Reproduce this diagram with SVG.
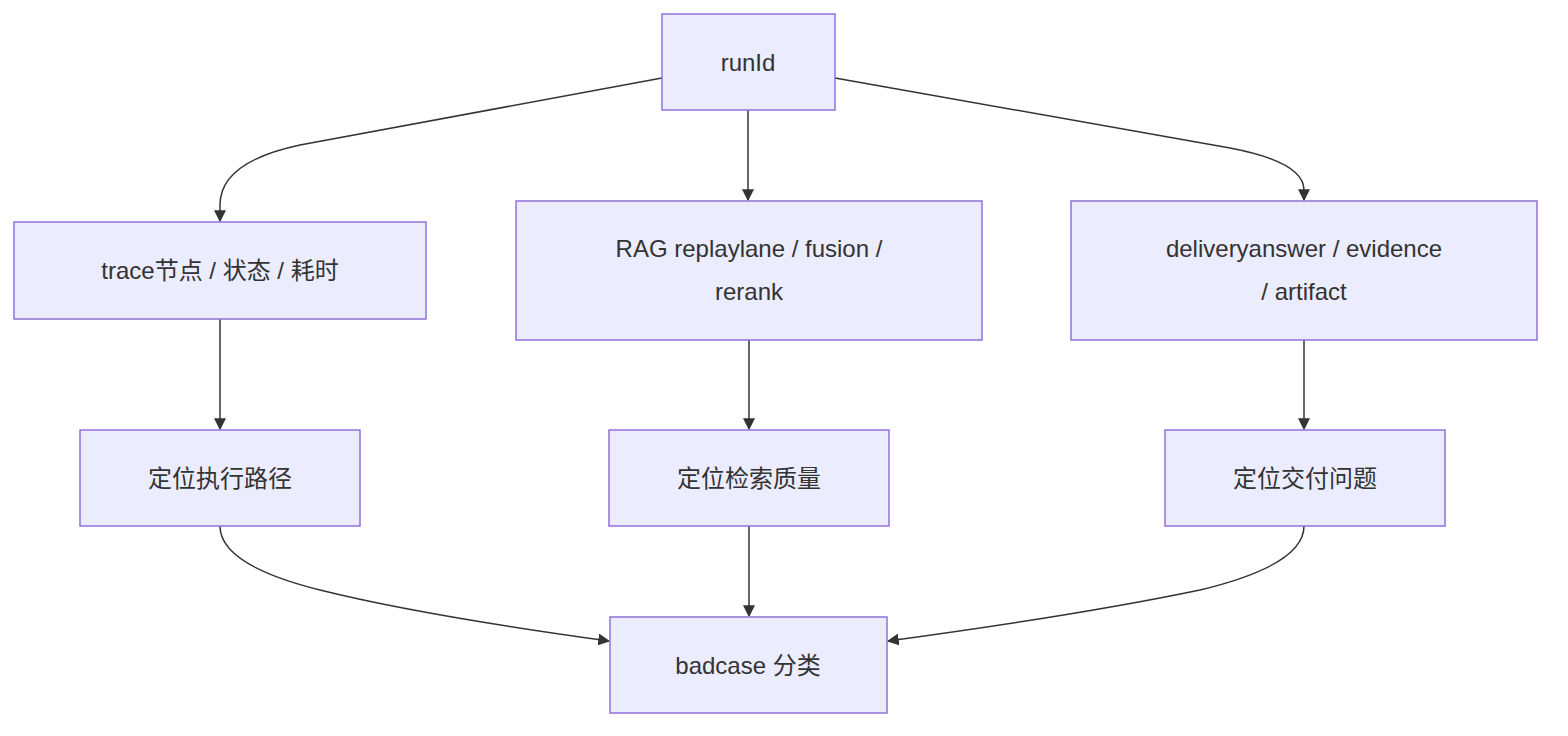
<svg xmlns="http://www.w3.org/2000/svg" width="1568" height="736" viewBox="0 0 1568 736">
<style>
.n rect{fill:#ECECFF;stroke:#9370DB;stroke-width:1.5}
.n text{font-family:"Liberation Sans","Noto Sans CJK SC",sans-serif;font-size:24px;fill:#333;text-anchor:middle;dominant-baseline:central}
.e path{fill:none;stroke:#333;stroke-width:1.5;marker-end:url(#a)}
</style>
<defs><marker id="a" viewBox="0 0 10 10" refX="9" refY="5" markerWidth="8" markerHeight="8" orient="auto"><path d="M0,0L10,5L0,10z" fill="#333"/></marker></defs>
<rect width="1568" height="736" fill="#fff"/>
<g class="e">
<path d="M662,78 L300,145 Q220,162 220,205 L220,221"/>
<path d="M748,110 L748,200"/>
<path d="M835,78 L1230,148 Q1304,162 1304,190 L1304,200"/>
<path d="M220,319 L220,429"/>
<path d="M749,340 L749,429"/>
<path d="M1304,340 L1304,429"/>
<path d="M220,526 Q220,565 320,590 Q420,615 609,641"/>
<path d="M749,526 L749,616"/>
<path d="M1304,526 Q1304,565 1200,590 Q1080,615 888,641"/>
</g>
<g id="runId" class="n"><rect x="662" y="14" width="173" height="96"/><text x="748" y="62">runId</text></g>
<g id="trace" class="n"><rect x="14" y="222" width="412" height="97"/><text x="220" y="270">trace节点 / 状态 / 耗时</text></g>
<g id="rag" class="n"><rect x="516" y="201" width="466" height="139"/><text x="749" y="248">RAG replaylane / fusion /</text><text x="749" y="291">rerank</text></g>
<g id="delivery" class="n"><rect x="1071" y="201" width="466" height="139"/><text x="1304" y="248">deliveryanswer / evidence</text><text x="1304" y="291">/ artifact</text></g>
<g id="p1" class="n"><rect x="80" y="430" width="280" height="96"/><text x="220" y="478">定位执行路径</text></g>
<g id="p2" class="n"><rect x="609" y="430" width="280" height="96"/><text x="749" y="478">定位检索质量</text></g>
<g id="p3" class="n"><rect x="1165" y="430" width="280" height="96"/><text x="1305" y="478">定位交付问题</text></g>
<g id="badcase" class="n"><rect x="610" y="617" width="277" height="96"/><text x="748" y="665">badcase 分类</text></g>
</svg>
